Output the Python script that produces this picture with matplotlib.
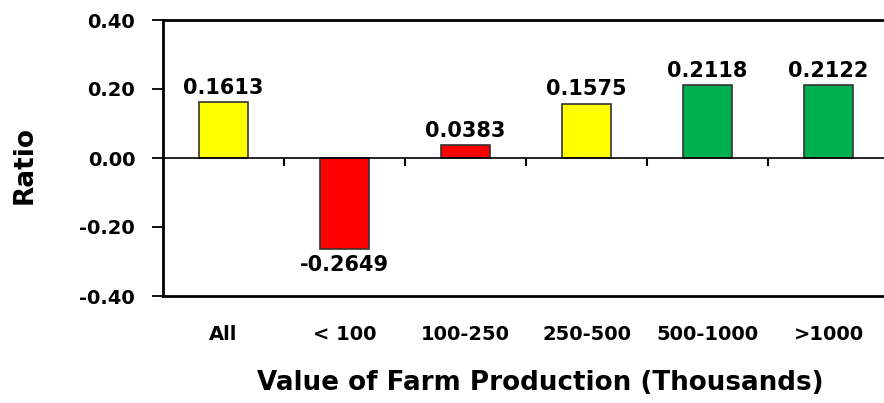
import matplotlib
matplotlib.use("Agg")
import matplotlib.pyplot as plt
import numpy as np

categories = ["All", "< 100", "100-250", "250-500", "500-1000", ">1000"]
ratios = [0.1613, -0.2649, 0.0383, 0.1575, 0.2118, 0.2122]
bar_colors = ["#FFFF00", "#FF0000", "#FF0000", "#FFFF00", "#00B050", "#00B050"]
y_ticks = [-0.40, -0.20, 0.00, 0.20, 0.40]

plt.rcParams["font.family"] = ["DejaVu Sans"]
plt.rcParams["font.weight"] = "bold"

fig = plt.figure(figsize=(8.84, 4.03), dpi=100)
ax = fig.add_axes([163 / 884, 107 / 403, 726 / 884, 276 / 403])

x = np.arange(len(categories))
ax.bar(x, ratios, width=0.41, color=bar_colors, edgecolor="#333333", linewidth=1.2, zorder=3)

ax.set_xlim(-0.5, len(categories) - 0.5)
ax.set_ylim(-0.40, 0.40)

# value labels
for xi, v in zip(x, ratios):
    if v >= 0:
        ax.annotate(f"{v:.4f}", (xi, v), xytext=(0, 3), textcoords="offset points",
                    ha="center", va="bottom", fontsize=15, fontweight="bold")
    else:
        ax.annotate(f"{v:.4f}", (xi, v), xytext=(0, -4), textcoords="offset points",
                    ha="center", va="top", fontsize=15, fontweight="bold")

# zero line
ax.axhline(0, color="black", linewidth=1.2, zorder=4)

# spines
for side in ["top", "bottom", "left"]:
    ax.spines[side].set_linewidth(2)
ax.spines["right"].set_visible(False)

ax.set_yticks(y_ticks)
ax.set_yticklabels([f"{t:.2f}" for t in y_ticks], fontsize=14, fontweight="bold")
ax.tick_params(axis="y", direction="out", length=8, width=1.3, pad=12)

ax.set_xticks(x)
ax.set_xticklabels(categories, fontsize=14, fontweight="bold")
ax.tick_params(axis="x", length=0, pad=21)

# small boundary ticks hanging below the zero line
zax = ax.secondary_xaxis(0.5)
zax.xaxis.set_ticks_position("bottom")
zax.set_xticks(np.arange(len(categories) - 1) + 0.5)
zax.set_xticklabels([])
zax.tick_params(direction="out", length=6, width=1.5)
for s in zax.spines.values():
    s.set_visible(False)

fig.text(540 / 884, 1 - 383 / 403, "Value of Farm Production (Thousands)",
         ha="center", va="center", fontsize=18.8, fontweight="bold")
fig.text(25 / 884, 1 - 165 / 403, "Ratio", ha="center", va="center",
         rotation=90, fontsize=19, fontweight="bold")

fig.savefig("out.png", dpi=100)
